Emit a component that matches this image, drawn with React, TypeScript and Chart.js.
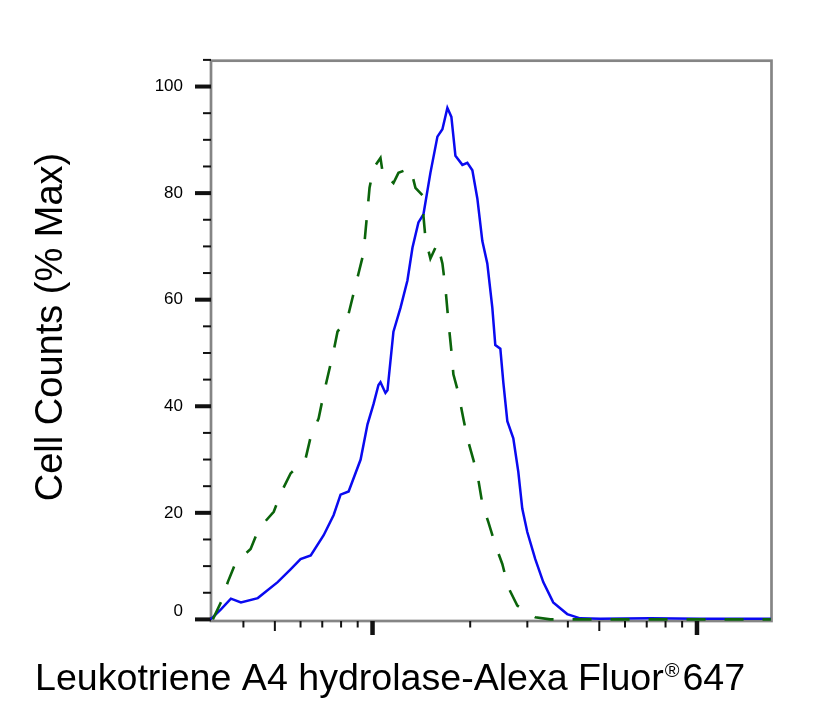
import { useEffect, useRef } from 'react'
import { Chart, registerables } from 'chart.js'

Chart.register(...registerables)

// fluorescence intensity (log axis) and % max
const stainedX = [317, 341, 366, 393, 443, 510, 559, 600, 645, 707, 759, 797, 844, 919, 965, 1007, 1043, 1058, 1096, 1112, 1160, 1220, 1281, 1328, 1385, 1435, 1508, 1585, 1642, 1701, 1750, 1801, 1892, 1960, 2031, 2104, 2180, 2258, 2340, 2390, 2477, 2530, 2603, 2716, 2814, 2894, 2999, 3174, 3359, 3605, 3981, 4365, 5030, 7170, 10215, 16890]
const stainedY = [0, 1.9, 3.9, 3.2, 4.0, 7.0, 9.4, 11.3, 12, 15.8, 19.6, 23.4, 24, 30, 36.6, 40.4, 44, 44.5, 42.5, 43, 54, 58.5, 63.6, 69.8, 74.5, 76, 83.8, 90.6, 92, 96, 94.3, 87, 85.3, 85.7, 84.3, 79, 71, 66.8, 58.5, 51.5, 50.8, 44.5, 37.2, 34, 27.7, 20.8, 16.4, 11.3, 7, 3.2, 1, 0.2, 0.1, 0.2, 0.1, 0.1]

const controlX = [322, 341, 358, 379, 421, 446, 496, 521, 559, 622, 645, 682, 707, 759, 780, 838, 868, 906, 938, 952, 965, 979, 1007, 1058, 1081, 1120, 1160, 1202, 1309, 1356, 1425, 1435, 1456, 1508, 1585, 1642, 1677, 1713, 1750, 1775, 1839, 1905, 1960, 2045, 2119, 2180, 2274, 2390, 2512, 2621, 2794, 3174, 3529, 16890]
const controlY = [0, 3.2, 7, 10.7, 13.2, 17, 20.2, 23.6, 27.4, 30.2, 34.3, 37.7, 42.3, 50.4, 54, 56.6, 60.4, 65, 68.7, 73, 76.8, 81, 84.7, 86.6, 82.8, 82.8, 81.9, 83.8, 84.7, 81, 79.6, 75.8, 71.5, 67.7, 70.6, 66.8, 62.3, 56, 50.4, 46, 42.5, 37.7, 34, 30, 26.2, 21.7, 18.3, 14, 10.4, 6, 2.6, 0.4, 0, 0]

const yMajorTicks = [0, 20, 40, 60, 80, 100]
const yMinorTicks = [5, 10, 15, 25, 30, 35, 45, 50, 55, 65, 70, 75, 85, 90, 95, 105]
const xMajorTicks = [1000, 10000]
const xMidTicks = [500, 5000]
const xMinorTicks = [400, 600, 700, 800, 900, 2000, 3000, 4000, 6000, 7000, 8000, 9000]

const xTitle = 'Leukotriene A4 hydrolase-Alexa Fluor'
const xTitleMark = '®'
const xTitleTail = '647'
const yTitle = 'Cell Counts (% Max)'

const FONT = '"Liberation Sans", Arial, Helvetica, sans-serif'

const toPoints = (xs: number[], ys: number[]) => xs.map((x, i) => ({ x, y: ys[i] }))

const framePlugin = {
  id: 'frame',
  beforeDatasetsDraw(chart: any) {
    const { ctx, chartArea: a, scales } = chart
    const sx = scales.x
    const sy = scales.y
    ctx.save()

    // plot box
    ctx.strokeStyle = '#858585'
    ctx.lineWidth = 2.7
    ctx.strokeRect(a.left, a.top, a.right - a.left, a.bottom - a.top)

    const line = (x1: number, y1: number, x2: number, y2: number, w: number) => {
      ctx.lineWidth = w
      ctx.beginPath()
      ctx.moveTo(x1, y1)
      ctx.lineTo(x2, y2)
      ctx.stroke()
    }
    ctx.strokeStyle = '#111'
    ctx.lineCap = 'butt'

    yMajorTicks.forEach((v) => {
      const p = sy.getPixelForValue(v)
      line(a.left - 16, p, a.left, p, 4)
    })
    yMinorTicks.forEach((v) => {
      const p = sy.getPixelForValue(v)
      line(a.left - 8, p, a.left, p, 2)
    })
    xMajorTicks.forEach((v) => {
      const p = sx.getPixelForValue(v)
      line(p, a.bottom, p, a.bottom + 14, 4.5)
    })
    xMidTicks.forEach((v) => {
      const p = sx.getPixelForValue(v)
      line(p, a.bottom, p, a.bottom + 10, 2)
    })
    xMinorTicks.forEach((v) => {
      const p = sx.getPixelForValue(v)
      line(p, a.bottom, p, a.bottom + 6.5, 2)
    })

    // y tick labels
    ctx.fillStyle = '#000'
    ctx.font = `17px ${FONT}`
    ctx.textAlign = 'right'
    ctx.textBaseline = 'middle'
    yMajorTicks.forEach((v) => {
      const p = Math.min(sy.getPixelForValue(v), a.bottom - 10)
      ctx.fillText(String(v), a.left - 28, p)
    })

    // x title
    ctx.textAlign = 'left'
    ctx.textBaseline = 'alphabetic'
    ctx.font = `37.6px ${FONT}`
    let tx = 35
    ctx.fillText(xTitle, tx, 690)
    tx += ctx.measureText(xTitle).width + 1
    ctx.font = `20px ${FONT}`
    ctx.fillText(xTitleMark, tx, 677)
    tx += ctx.measureText(xTitleMark).width + 3
    ctx.font = `37.6px ${FONT}`
    ctx.fillText(xTitleTail, tx, 690)

    // y title
    ctx.font = `38px ${FONT}`
    ctx.translate(62, 327)
    ctx.rotate(-Math.PI / 2)
    ctx.textAlign = 'center'
    ctx.fillText(yTitle, 0, 0)

    ctx.restore()
  },
}

export default function App() {
  const ref = useRef<HTMLCanvasElement>(null)

  useEffect(() => {
    if (!ref.current) return
    const chart = new Chart(ref.current, {
      type: 'line',
      data: {
        datasets: [
          {
            label: 'control',
            data: toPoints(controlX, controlY),
            borderColor: '#0b640b',
            borderWidth: 2.6,
            borderDash: [19, 19],
            pointRadius: 0,
            tension: 0,
            fill: false,
            clip: false as any,
          },
          {
            label: 'stained',
            data: toPoints(stainedX, stainedY),
            borderColor: '#0a0af0',
            borderWidth: 2.5,
            pointRadius: 0,
            tension: 0,
            fill: false,
            clip: false as any,
          },
        ],
      },
      options: {
        responsive: false,
        animation: false,
        layout: { padding: { left: 211, top: 60.7, right: 65.5, bottom: 85 } },
        plugins: { legend: { display: false }, tooltip: { enabled: false } },
        scales: {
          x: { type: 'logarithmic', min: 317.8, max: 16970, display: false },
          y: { type: 'linear', min: -0.3, max: 104.85, display: false },
        },
      },
      plugins: [framePlugin],
    })
    return () => { chart.destroy() }
  }, [])

  return (
    <div style={{ position: 'absolute', left: 0, top: 0, width: 837, height: 706, background: '#fff' }}>
      <canvas ref={ref} width={837} height={706} style={{ width: 837, height: 706 }} />
    </div>
  )
}
